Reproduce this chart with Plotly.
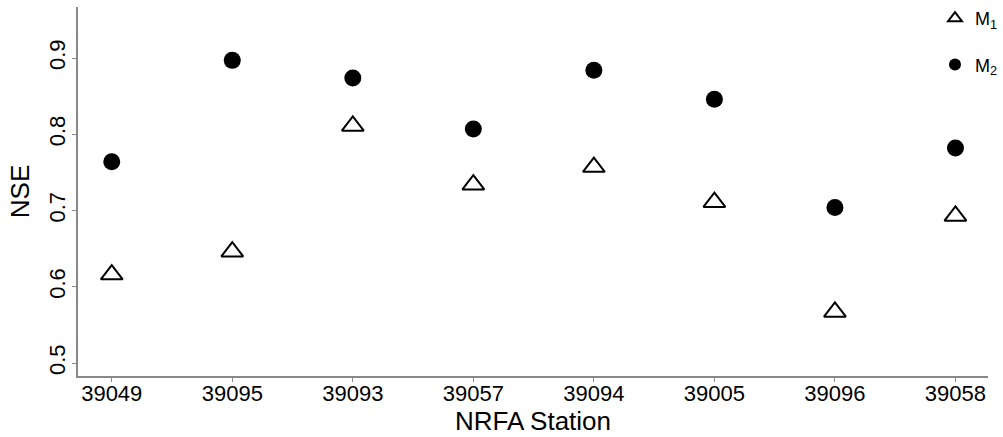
import plotly.graph_objects as go

stations = ["39049", "39095", "39093", "39057", "39094", "39005", "39096", "39058"]
m1_nse = [0.616, 0.646, 0.811, 0.734, 0.757, 0.711, 0.567, 0.693]
m2_nse = [0.764, 0.897, 0.874, 0.807, 0.884, 0.846, 0.704, 0.782]
y_ticks = [0.5, 0.6, 0.7, 0.8, 0.9]

fig = go.Figure()
fig.add_trace(go.Scatter(
    x=list(range(len(stations))), y=m1_nse, mode="markers", name="M<sub>1</sub>",
    legendgroup="a",
    marker=dict(symbol="triangle-up-open", size=19, color="black", line=dict(width=2, color="black")),
))
fig.add_trace(go.Scatter(
    x=list(range(len(stations))), y=m2_nse, mode="markers", name="M<sub>2</sub>",
    legendgroup="b",
    marker=dict(symbol="circle", size=17, color="black"),
))

fig.update_layout(
    width=1003, height=437,
    margin=dict(l=78, r=15, t=7, b=61, autoexpand=False),
    plot_bgcolor="white", paper_bgcolor="white",
    font=dict(family="Liberation Sans, Arial, sans-serif", color="black"),
    showlegend=True,
    legend=dict(xref="container", yref="container", x=1.0, y=1.0,
                xanchor="right", yanchor="top", bgcolor="rgba(0,0,0,0)",
                font=dict(size=18), traceorder="grouped", tracegroupgap=20,
                itemsizing="constant"),
    xaxis=dict(
        range=[-0.28, 7.27], tickmode="array", tickvals=list(range(len(stations))),
        ticktext=stations, showgrid=False, zeroline=False, showline=True,
        linecolor="#888888", linewidth=1.5, ticks="outside", ticklen=4, tickcolor="#888888",
        tickfont=dict(size=22), ticklabelstandoff=-7,
        title=dict(text="NRFA Station", font=dict(size=26), standoff=4),
    ),
    yaxis=dict(
        range=[0.483, 0.967], tickmode="array", tickvals=y_ticks,
        ticktext=[str(v) for v in y_ticks], showgrid=False, zeroline=False, showline=True,
        linecolor="#888888", linewidth=1.5, ticks="outside", ticklen=4, tickcolor="#888888",
        tickangle=-90, tickfont=dict(size=22), ticklabelstandoff=-2,
        title=dict(text="NSE", font=dict(size=26), standoff=8),
    ),
)

fig.write_html("out.html")
